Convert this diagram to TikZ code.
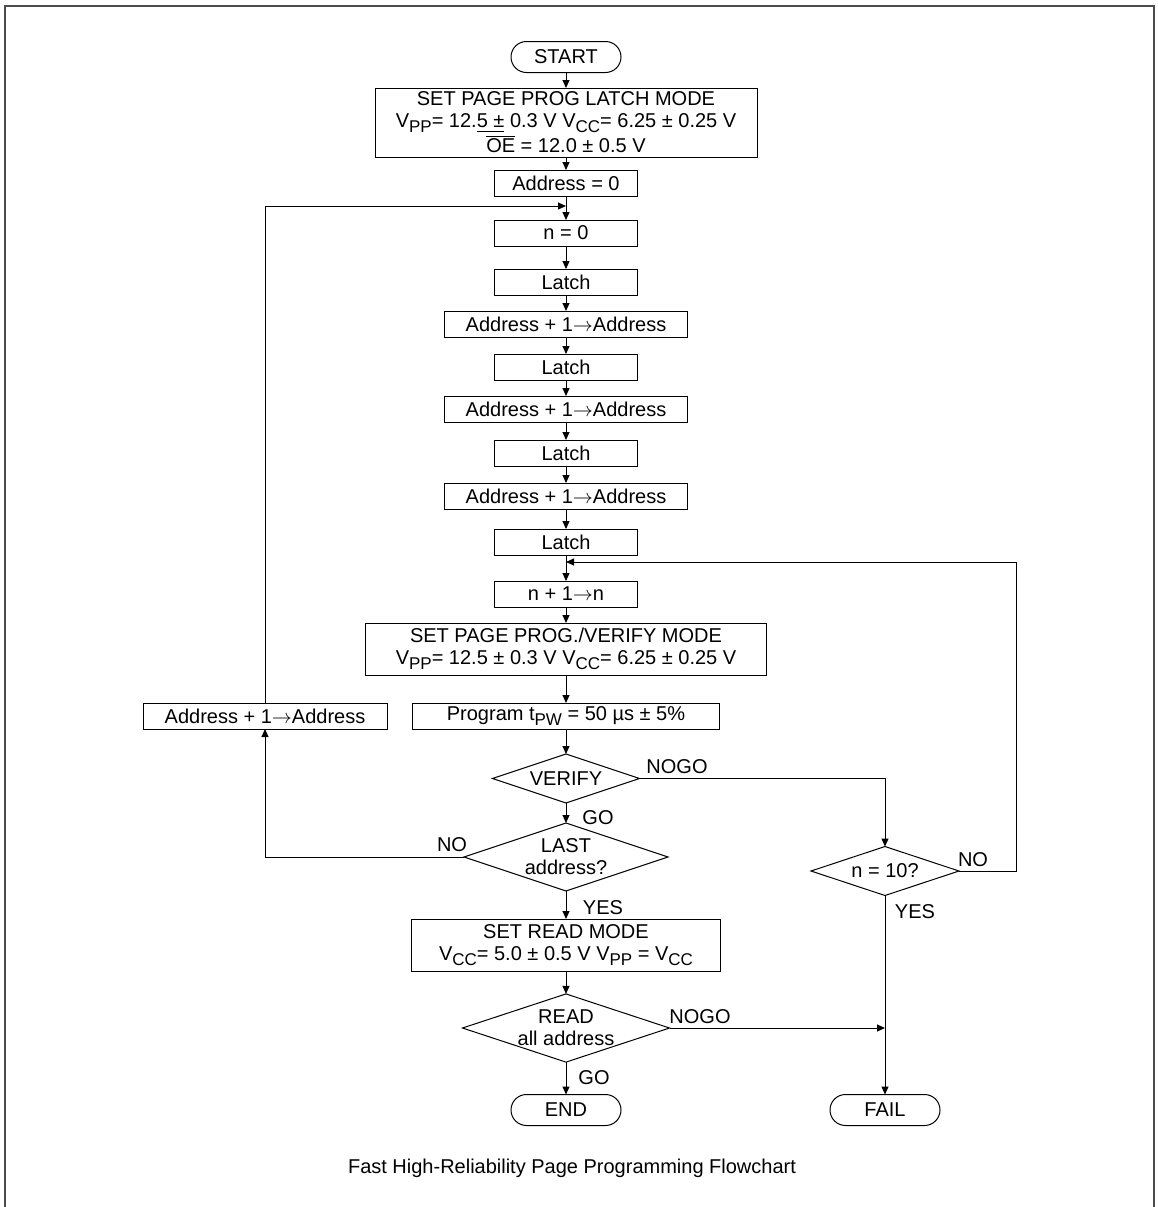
\documentclass[tikz,border=0pt]{standalone}
\usepackage{fontspec}
\setmainfont{Liberation Sans}
\usetikzlibrary{arrows.meta,shapes.geometric}
\newcommand{\lowsub}[1]{\raisebox{-0.45ex}{\fontsize{8.5}{9}\selectfont #1}}
\newcommand{\goesto}{$\rightarrow$}
\begin{document}
\begin{tikzpicture}[x=0.5pt,y=-0.5pt,line width=0.5pt,font=\fontsize{10}{11}\selectfont,>={Triangle[length=4pt,width=3.5pt]}]
\tikzstyle{every node}+=[inner sep=0pt,outer sep=0pt]
\tikzstyle{blk}=[draw,minimum height=13pt,align=center]
\tikzstyle{term}=[draw,rounded corners=7.75pt,minimum width=55pt,minimum height=15.5pt]
\tikzstyle{dec}=[draw,diamond,aspect=3,align=center]
\useasboundingbox (0,0) rectangle (1158,1207);
\draw [line width=1pt,black!70] (5,1207) -- (5,6) -- (1154,6) -- (1154,1207);
\node [term] (start) at (566,57) {START};
\node [blk,minimum width=191pt,minimum height=34.5pt] (latchmode) at (566,122.5) {SET PAGE PROG LATCH MODE\\V\lowsub{PP}= 12.\underline{5 ±} 0.3 V V\lowsub{CC}= 6.25 ± 0.25 V\\$\overline{\hbox{OE}}$ = 12.0 ± 0.5 V};
\node [blk,minimum width=71.5pt] (addr0) at (566,183) {Address = 0};
\coordinate (j1) at (566,206);
\node [blk,minimum width=71.5pt] (n0) at (566,233) {n = 0};
\node [blk,minimum width=71.5pt] (latch1) at (566,282) {Latch};
\node [blk,minimum width=121.5pt] (inc1) at (566,324) {Address + 1\goesto Address};
\node [blk,minimum width=71.5pt] (latch2) at (566,367) {Latch};
\node [blk,minimum width=121.5pt] (inc2) at (566,409) {Address + 1\goesto Address};
\node [blk,minimum width=71.5pt] (latch3) at (566,453) {Latch};
\node [blk,minimum width=121.5pt] (inc3) at (566,496) {Address + 1\goesto Address};
\node [blk,minimum width=71.5pt] (latch4) at (566,542) {Latch};
\coordinate (j2) at (566,562);
\node [blk,minimum width=71.5pt] (ninc) at (566,594) {n + 1\goesto n};
\node [blk,minimum width=200.5pt,minimum height=26pt] (verifymode) at (566,649) {SET PAGE PROG./VERIFY MODE\\V\lowsub{PP}= 12.5 ± 0.3 V V\lowsub{CC}= 6.25 ± 0.25 V};
\node [blk,minimum width=122pt] (addrL) at (265,716) {Address + 1\goesto Address};
\node [blk,minimum width=153.5pt] (prog) at (566,716) {Program t\lowsub{PW} = 50 µs ± 5\%};
\node [dec,minimum width=73.5pt,minimum height=24.5pt] (verify) at (566,778.5) {VERIFY};
\node [dec,minimum width=102pt,minimum height=34pt] (last) at (566,857) {LAST\\address?};
\node [dec,minimum width=74pt,minimum height=24.5pt] (ten) at (885,871) {n = 10?};
\node [blk,minimum width=154.5pt,minimum height=26pt] (readmode) at (566,945) {SET READ MODE\\V\lowsub{CC}= 5.0 ± 0.5 V V\lowsub{PP} = V\lowsub{CC}};
\node [dec,minimum width=103.5pt,minimum height=34pt] (readchk) at (566,1028) {READ\\all address};
\node [term] (end) at (566,1110) {END};
\node [term] (fail) at (885,1110) {FAIL};
\coordinate (rt) at (1016,562);
\coordinate (failin) at (885,1028);
\node (nogo1) at (677,767) {NOGO};
\node (go1) at (598,818) {GO};
\node (no1) at (452,845) {NO};
\node (yes1) at (603,908) {YES};
\node (no2) at (973,860) {NO};
\node (yes2) at (915,912) {YES};
\node (nogo2) at (700,1017) {NOGO};
\node (go2) at (594,1078) {GO};
\node (caption) at (572,1168) {Fast High-Reliability Page Programming Flowchart};
\draw [->] (start) -- (latchmode);
\draw [->] (latchmode) -- (addr0);
\draw (addr0) -- (j1);
\draw [->] (j1) -- (n0);
\draw [->] (n0) -- (latch1);
\draw [->] (latch1) -- (inc1);
\draw [->] (inc1) -- (latch2);
\draw [->] (latch2) -- (inc2);
\draw [->] (inc2) -- (latch3);
\draw [->] (latch3) -- (inc3);
\draw [->] (inc3) -- (latch4);
\draw (latch4) -- (j2);
\draw [->] (j2) -- (ninc);
\draw [->] (ninc) -- (verifymode);
\draw [->] (verifymode) -- (prog);
\draw [->] (prog) -- (verify);
\draw [->] (verify) -- (last);
\draw [->] (last) -- (readmode);
\draw [->] (readmode) -- (readchk);
\draw [->] (readchk) -- (end);
\draw [->] (verify.east) -| (ten.north);
\draw [->] (ten.east) -| (rt) -- (j2);
\draw [->] (ten) -- (fail);
\draw [->] (readchk.east) -- (failin);
\draw [->] (last.west) -| (addrL.south);
\draw [->] (addrL.north) |- (j1);
\end{tikzpicture}
\end{document}
